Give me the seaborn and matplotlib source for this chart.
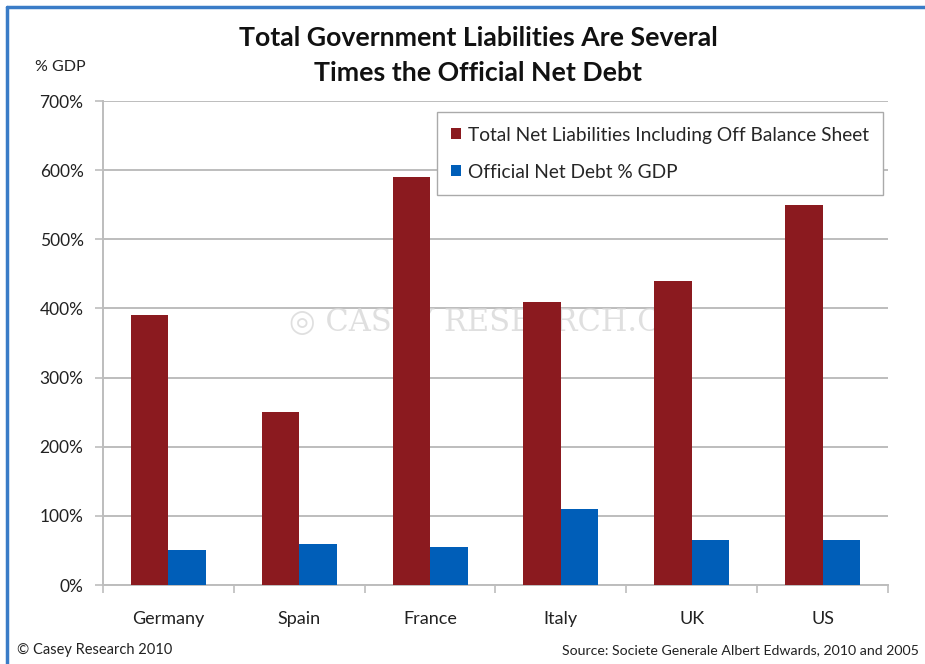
import matplotlib
matplotlib.use("Agg")
import matplotlib.pyplot as plt
import seaborn as sns
import pandas as pd
from matplotlib.lines import Line2D

countries = ["Germany", "Spain", "France", "Italy", "UK", "US"]
total_liabilities = [390, 250, 590, 410, 440, 550]
official_debt = [50, 60, 55, 110, 65, 65]
series_names = ["Total Net Liabilities Including Off Balance Sheet", "Official Net Debt % GDP"]
y_ticks = [0, 100, 200, 300, 400, 500, 600, 700]
y_tick_labels = ["0%", "100%", "200%", "300%", "400%", "500%", "600%", "700%"]

df = pd.DataFrame({
    "Country": countries * 2,
    "Value": total_liabilities + official_debt,
    "Series": [series_names[0]] * len(countries) + [series_names[1]] * len(countries),
})

sns.set_theme(style="white")
plt.rcParams["font.family"] = ["Lato", "DejaVu Sans"]

fig = plt.figure(figsize=(9.25, 6.64), dpi=100)
ax = fig.add_axes([103/925, 1-585/664, 785/925, 484/664])

palette = {series_names[0]: "#8B1A1F", series_names[1]: "#005EB8"}
sns.barplot(data=df, x="Country", y="Value", hue="Series", palette=palette,
            width=0.573, gap=0, dodge=True, ax=ax, saturation=1, zorder=3,
            edgecolor="none", linewidth=0)

ax.set_ylim(0, 700)
ax.set_xlim(-0.5, 5.5)
ax.set_yticks(y_ticks)
ax.set_yticklabels(y_tick_labels, fontsize=12.5, color="#222222")
ax.yaxis.grid(True, color="#BDBDBD", linewidth=1.4, zorder=0)
ax.set_axisbelow(True)
ax.set_xlabel("")
ax.set_ylabel("")
ax.tick_params(axis="y", length=6, width=1.2, color="#BDBDBD", pad=8, left=True)
ax.set_xticks(range(len(countries)))
ax.set_xticklabels(countries, fontsize=13, color="#222222")
ax.tick_params(axis="x", which="major", length=0, pad=19)
ax.set_xticks([i + 0.5 for i in range(-1, 6)], minor=True)
ax.tick_params(axis="x", which="minor", length=6, width=1.2, color="#BDBDBD", bottom=True)

for s in ["top", "right"]:
    ax.spines[s].set_visible(False)
for s in ["left", "bottom"]:
    ax.spines[s].set_color("#BDBDBD")
    ax.spines[s].set_linewidth(1.4)

# watermark
ax.text(0.49, 0.543, "\u25CE CASEY RESEARCH.CO", transform=ax.transAxes,
        fontsize=22, color="#D8D8D8", family="DejaVu Serif", ha="center", va="center", zorder=1, alpha=0.8)

handles, labels = ax.get_legend_handles_labels()
ax.legend(handles, labels, loc="upper left", bbox_to_anchor=(0.4255, 0.977),
          frameon=True, fancybox=False, edgecolor="#AAAAAA", fontsize=13.8,
          handlelength=0.5, handleheight=0.5, handletextpad=0.35, labelspacing=1.05,
          borderpad=0.75, borderaxespad=0, framealpha=1)
ax.get_legend().get_frame().set_linewidth(1.0)

fig.text(478/925, 1-38/664, "Total Government Liabilities Are Several", ha="center", va="center",
         fontsize=19.2, fontweight="bold", color="#111111")
fig.text(478/925, 1-73/664, "Times the Official Net Debt", ha="center", va="center",
         fontsize=19.2, fontweight="bold", color="#111111")
fig.text(35/925, 1-67/664, "% GDP", ha="left", va="center", fontsize=11.5, color="#222222")
fig.text(17/925, 1-650/664, "\u00A9 Casey Research 2010", ha="left", va="center", fontsize=10.5, color="#222222")
fig.text(919/925, 1-650/664, "Source: Societe Generale Albert Edwards, 2010 and 2005", ha="right", va="center",
         fontsize=10.2, color="#222222")

# blue frame lines (top and left)
fig.add_artist(Line2D([7/925, 7/925], [0, 1-7/664], color="#3A7CC7", linewidth=2.5, transform=fig.transFigure))
fig.add_artist(Line2D([7/925, 1], [1-7/664, 1-7/664], color="#3A7CC7", linewidth=2.5, transform=fig.transFigure))

fig.savefig("out.png", dpi=100, facecolor="white")
